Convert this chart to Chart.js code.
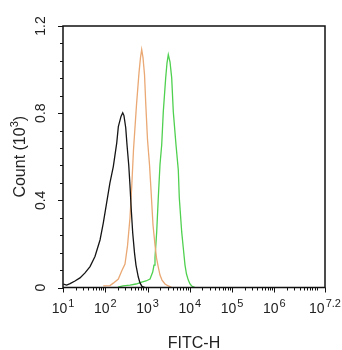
<!DOCTYPE html>
<html>
<head>
<meta charset="utf-8">
<script src="https://cdn.jsdelivr.net/npm/chart.js@4"></script>
<style>
  body { margin: 0; background: #fff; }
  #wrap { width: 342px; height: 350px; position: relative; }
</style>
</head>
<body>
<div id="wrap"><canvas id="hist"></canvas></div>
<script>
// axis ticks
const xTickExponents = [1, 2, 3, 4, 5, 6, 7.2];
const yTicks = [0, 0.4, 0.8, 1.2];

// FITC-H channel values and counts (10^3)
const blackFitc = [10.2, 12.2, 14.7, 19.2, 25.2, 33.2, 43.6, 57.1, 75.2, 90, 108, 129, 155, 187, 204, 236, 259, 277, 305, 327, 359, 385, 413, 446, 492, 533, 605, 664, 740, 871];
const blackCount = [0.016, 0.011, 0.018, 0.030, 0.044, 0.067, 0.096, 0.142, 0.218, 0.297, 0.389, 0.480, 0.555, 0.664, 0.738, 0.785, 0.802, 0.789, 0.733, 0.655, 0.563, 0.467, 0.356, 0.251, 0.159, 0.103, 0.048, 0.021, 0.005, 0];

const orangeFitc = [89.9, 129, 155, 204, 245, 293, 336, 385, 423, 466, 548, 629, 682, 728, 782, 849, 911, 1000, 1115, 1209, 1349, 1503, 1630, 1799, 1973, 2201, 2592, 3104, 3796];
const orangeCount = [0.007, 0.009, 0.020, 0.039, 0.076, 0.108, 0.191, 0.320, 0.462, 0.632, 0.837, 0.986, 1.055, 1.092, 1.055, 0.977, 0.839, 0.678, 0.563, 0.448, 0.287, 0.195, 0.136, 0.094, 0.057, 0.034, 0.016, 0.007, 0];

const greenFitc = [200, 263, 385, 533, 728, 920, 1146, 1327, 1424, 1503, 1648, 1799, 1973, 2167, 2363, 2692, 2891, 3104, 3404, 3734, 4074, 4718, 5349, 5649, 6440, 7101, 7709, 8360, 9226, 10120, 11100, 13300];
const greenCount = [0.002, 0.007, 0.011, 0.016, 0.025, 0.030, 0.039, 0.071, 0.103, 0.136, 0.255, 0.412, 0.563, 0.655, 0.807, 0.962, 1.030, 1.069, 1.036, 0.962, 0.807, 0.655, 0.540, 0.412, 0.255, 0.172, 0.103, 0.062, 0.034, 0.016, 0.007, 0];

const FONT = '"Liberation Sans", Arial, sans-serif';
const TEXT = '#222';

function pts(xs, ys) {
  return xs.map((x, i) => ({ x: x, y: ys[i] }));
}

function line(label, xs, ys, color) {
  return {
    label: label,
    data: pts(xs, ys),
    borderColor: color,
    borderWidth: 1.3,
    pointRadius: 0,
    tension: 0,
    fill: false
  };
}

// base with raised exponent, centred on cx
function drawPow(ctx, base, exp, cx, y, size, expSize, rise) {
  ctx.font = size + 'px ' + FONT;
  const wb = ctx.measureText(base).width;
  ctx.font = expSize + 'px ' + FONT;
  const we = ctx.measureText(exp).width;
  const left = cx - (wb + we + 1) / 2;
  ctx.textAlign = 'left';
  ctx.textBaseline = 'alphabetic';
  ctx.font = size + 'px ' + FONT;
  ctx.fillText(base, left, y);
  ctx.font = expSize + 'px ' + FONT;
  ctx.fillText(exp, left + wb + 1, y - rise);
}

const axesPlugin = {
  id: 'flowAxes',
  afterDraw(chart) {
    const ctx = chart.ctx;
    const a = chart.chartArea;
    const xs = chart.scales.x;
    const ys = chart.scales.y;
    ctx.save();

    // frame
    ctx.strokeStyle = '#111';
    ctx.lineWidth = 1.5;
    ctx.strokeRect(a.left, a.top, a.right - a.left, a.bottom - a.top);

    ctx.lineWidth = 1;
    ctx.beginPath();
    // y ticks (major + 4 minor between)
    const yStep = (yTicks[1] - yTicks[0]) / 5;
    for (let v = 0; v <= yTicks[yTicks.length - 1] + 1e-9; v += yStep) {
      const py = Math.round(ys.getPixelForValue(v)) + 0.5;
      const major = yTicks.some(t => Math.abs(t - v) < 1e-6);
      ctx.moveTo(a.left, py);
      ctx.lineTo(a.left - (major ? 5 : 3), py);
    }
    // x ticks, log minors
    const maxExp = xTickExponents[xTickExponents.length - 1];
    for (let e = 1; e <= Math.floor(maxExp); e++) {
      for (let m = 1; m <= 9; m++) {
        const v = m * Math.pow(10, e);
        if (Math.log10(v) > maxExp + 1e-9) break;
        const px = Math.round(xs.getPixelForValue(v)) + 0.5;
        const major = m === 1 && xTickExponents.includes(e);
        ctx.moveTo(px, a.bottom);
        ctx.lineTo(px, a.bottom + (major ? 5 : 3));
      }
    }
    const pxEnd = Math.round(xs.getPixelForValue(Math.pow(10, maxExp))) + 0.5;
    ctx.moveTo(pxEnd, a.bottom);
    ctx.lineTo(pxEnd, a.bottom + 5);
    ctx.stroke();

    ctx.fillStyle = TEXT;

    // x tick labels
    xTickExponents.forEach(e => {
      const px = xs.getPixelForValue(Math.pow(10, e));
      drawPow(ctx, '10', String(e), px, 313, 14, 11, 6);
    });

    // y tick labels, rotated
    yTicks.forEach(v => {
      const py = ys.getPixelForValue(v);
      ctx.save();
      ctx.translate(45, py);
      ctx.rotate(-Math.PI / 2);
      ctx.font = '14px ' + FONT;
      ctx.textAlign = 'center';
      ctx.textBaseline = 'alphabetic';
      ctx.fillText(String(v), 0, 0);
      ctx.restore();
    });

    // axis titles
    ctx.font = '16px ' + FONT;
    ctx.textAlign = 'center';
    ctx.textBaseline = 'alphabetic';
    ctx.fillText('FITC-H', (a.left + a.right) / 2, 348);

    ctx.save();
    ctx.translate(25, (a.top + a.bottom) / 2);
    ctx.rotate(-Math.PI / 2);
    ctx.font = '16px ' + FONT;
    const w1 = ctx.measureText('Count (10').width;
    ctx.font = '11px ' + FONT;
    const w2 = ctx.measureText('3').width;
    ctx.font = '16px ' + FONT;
    const w3 = ctx.measureText(')').width;
    let x0 = -(w1 + w2 + w3) / 2;
    ctx.textAlign = 'left';
    ctx.fillText('Count (10', x0, 0);
    ctx.font = '11px ' + FONT;
    ctx.fillText('3', x0 + w1, -7);
    ctx.font = '16px ' + FONT;
    ctx.fillText(')', x0 + w1 + w2, 0);
    ctx.restore();

    ctx.restore();
  }
};

new Chart(document.getElementById('hist'), {
  type: 'line',
  data: {
    datasets: [
      line('Control', blackFitc, blackCount, '#151515'),
      line('Isotype', orangeFitc, orangeCount, '#eaa874'),
      line('Antibody', greenFitc, greenCount, '#4fd04f')
    ]
  },
  options: {
    responsive: true,
    maintainAspectRatio: false,
    animation: false,
    layout: { padding: { left: 63, top: 26, right: 17, bottom: 62.5 } },
    plugins: { legend: { display: false }, tooltip: { enabled: false } },
    scales: {
      x: { type: 'logarithmic', min: 10, max: Math.pow(10, 7.2), display: false },
      y: { type: 'linear', min: 0, max: 1.2, display: false }
    }
  },
  plugins: [axesPlugin]
});
</script>
</body>
</html>
